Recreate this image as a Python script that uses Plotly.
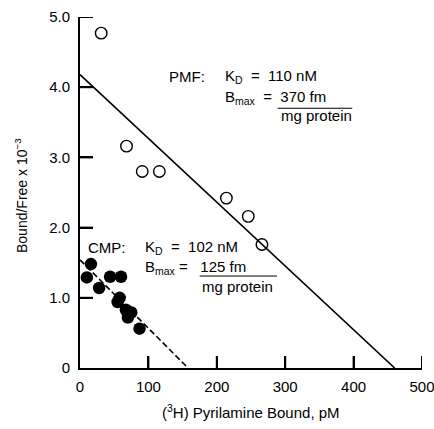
import plotly.graph_objects as go

# PMF (open circles)
pmf_x = [31, 68, 91, 116, 214, 246, 266]
pmf_y = [4.77, 3.16, 2.80, 2.80, 2.42, 2.16, 1.76]
# CMP (filled circles)
cmp_x = [10, 16, 28, 44, 60, 55, 58, 67, 75, 70, 87]
cmp_y = [1.29, 1.48, 1.14, 1.30, 1.30, 0.94, 1.00, 0.83, 0.79, 0.72, 0.56]
# Fitted Scatchard lines (endpoints: y-intercept and x-intercept)
pmf_fit_x = [0, 460]
pmf_fit_y = [4.18, 0]
cmp_fit_x = [0, 158]
cmp_fit_y = [1.54, 0]

x_ticks = [0, 100, 200, 300, 400, 500]
x_labels = ["0", "100", "200", "300", "400", "500"]
y_ticks = [0, 1, 2, 3, 4, 5]
y_labels = ["0", "1.0", "2.0", "3.0", "4.0", "5.0"]

FONT = "Liberation Sans, Arial, Helvetica, sans-serif"
NARROW = "Liberation Sans Narrow, Arial Narrow, Liberation Sans, sans-serif"
NB = "\u00a0"
PLOT_W, PLOT_H = 342, 351

fig = go.Figure()

# inward tick marks as a line trace built from the tick value lists
tick_x, tick_y = [], []
for tv in x_ticks[1:]:
    tick_x += [tv, tv, None]
    tick_y += [0, 12 / PLOT_H * 5, None]
for tv in y_ticks[1:]:
    tick_x += [0, 13 / PLOT_W * 500, None]
    tick_y += [tv, tv, None]
fig.add_trace(go.Scatter(x=tick_x, y=tick_y, mode="lines", cliponaxis=False,
                         line=dict(color="black", width=2), showlegend=False,
                         hoverinfo="skip"))

fig.add_trace(go.Scatter(x=pmf_fit_x, y=pmf_fit_y, mode="lines",
                         line=dict(color="black", width=1.6), showlegend=False))
fig.add_trace(go.Scatter(x=cmp_fit_x, y=cmp_fit_y, mode="lines",
                         line=dict(color="black", width=1.6, dash="6px,3px"), showlegend=False))
fig.add_trace(go.Scatter(x=pmf_x, y=pmf_y, mode="markers",
                         marker=dict(symbol="circle-open", size=11.5, color="black",
                                     line=dict(width=1.4, color="black")),
                         showlegend=False, cliponaxis=False))
fig.add_trace(go.Scatter(x=cmp_x, y=cmp_y, mode="markers",
                         marker=dict(symbol="circle", size=12.5, color="black"),
                         showlegend=False, cliponaxis=False))

ann_font = dict(family=FONT, size=15, color="black")
anns = [
    (127, 4.15, "PMF:"),
    (209, 4.15, f"K<sub>D</sub>{NB}{NB}={NB}{NB}110 nM"),
    (209, 3.86, f"B<sub>max</sub>{NB}{NB}={NB}{NB}370 fm"),
    (291, 3.59, "mg protein"),
    (8.8, 1.72, "CMP:"),
    (92, 1.72, f"K<sub>D</sub>{NB}{NB}={NB}{NB}102 nM"),
    (92, 1.43, f"B<sub>max</sub>{NB}={NB}{NB}{NB}125 fm"),
    (175, 1.16, "mg protein"),
]
for x, y, t in anns:
    fig.add_annotation(x=x, y=y, text=t, xref="x", yref="y", showarrow=False,
                       xanchor="left", yanchor="middle", font=ann_font)

fig.add_shape(type="line", x0=289, x1=398, y0=3.70, y1=3.70, xref="x", yref="y",
              line=dict(color="black", width=1))
fig.add_shape(type="line", x0=175, x1=288, y0=1.31, y1=1.31, xref="x", yref="y",
              line=dict(color="black", width=1))

# axis titles as paper annotations
fig.add_annotation(x=-59 / PLOT_W, y=0.49, xref="paper", yref="paper",
                   text="Bound/Free x 10<sup>\u22123</sup>", textangle=-90,
                   showarrow=False, xanchor="center", yanchor="middle",
                   font=dict(family=FONT, size=14, color="black"))
fig.add_annotation(x=0.5, y=-43 / PLOT_H, xref="paper", yref="paper",
                   text="(<sup>3</sup>H) Pyrilamine Bound, pM",
                   showarrow=False, xanchor="center", yanchor="middle", font=ann_font)

tickfont = dict(family=NARROW, size=15, color="black")
fig.update_layout(
    width=434, height=429,
    margin=dict(l=80, r=12, t=17, b=61, autoexpand=False),
    paper_bgcolor="white", plot_bgcolor="white",
    font=dict(family=FONT, size=15, color="black"),
    xaxis=dict(range=[0, 500], tickvals=x_ticks, ticktext=x_labels,
               showline=True, linecolor="black", linewidth=1.8, mirror=False,
               ticks="inside", ticklen=12, tickwidth=1.8, tickcolor="black",
               showgrid=False, zeroline=False, automargin=False,
               ticklabelstandoff=4, ticklabeloverflow="allow", tickfont=tickfont),
    yaxis=dict(range=[0, 5], tickvals=y_ticks, ticktext=y_labels,
               showline=True, linecolor="black", linewidth=1.8, mirror=False,
               ticks="inside", ticklen=13, tickwidth=1.8, tickcolor="black",
               showgrid=False, zeroline=False, automargin=False,
               ticklabelstandoff=5, ticklabeloverflow="allow", tickfont=tickfont),
)

fig.write_html("out.html", config={"displayModeBar": False},
               post_script="document.body.style.margin='0';document.body.style.overflow='hidden';")
